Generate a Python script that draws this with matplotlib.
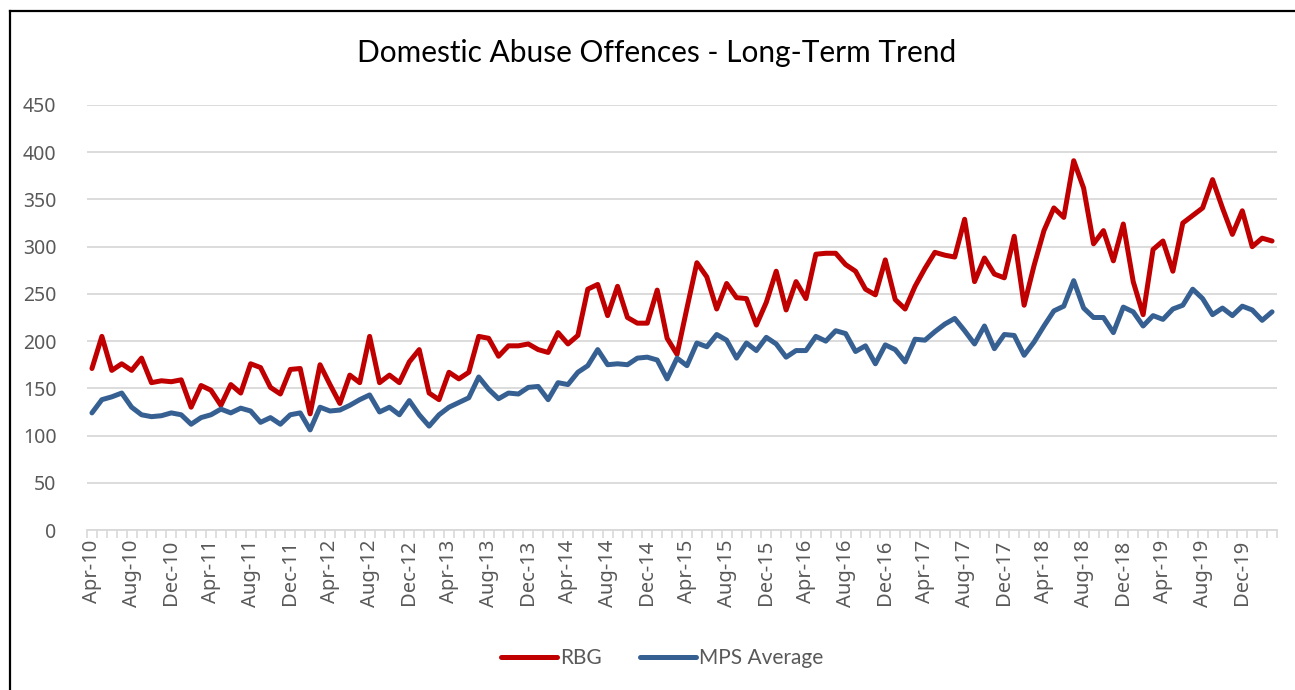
import matplotlib
matplotlib.use("Agg")
import matplotlib.pyplot as plt
from matplotlib.lines import Line2D

months = []
mnames = ["Jan", "Feb", "Mar", "Apr", "May", "Jun", "Jul", "Aug", "Sep", "Oct", "Nov", "Dec"]
for k in range(120):
    m = (3 + k) % 12
    y = 10 + (3 + k) // 12
    months.append(f"{mnames[m]}-{y:02d}")

rbg = [171, 205, 169, 176, 169, 182, 156, 158, 157, 159,
       130, 153, 148, 132, 154, 145, 176, 172, 151, 144,
       170, 171, 123, 175, 154, 134, 164, 156, 205, 156,
       164, 156, 178, 191, 145, 138, 167, 160, 167, 205,
       203, 184, 195, 195, 197, 191, 188, 209, 197, 206,
       255, 260, 227, 258, 225, 219, 219, 254, 203, 186,
       235, 283, 268, 234, 261, 246, 245, 217, 241, 274,
       233, 263, 245, 292, 293, 293, 281, 274, 255, 249,
       286, 244, 234, 258, 277, 294, 291, 289, 329, 263,
       288, 271, 267, 311, 238, 280, 317, 341, 331, 391,
       362, 303, 317, 285, 324, 263, 228, 297, 306, 274,
       325, 333, 341, 371, 341, 313, 338, 300, 309, 306]

mps = [124, 138, 141, 145, 130, 122, 120, 121, 124, 122,
       112, 119, 122, 128, 124, 129, 126, 114, 119, 112,
       122, 124, 106, 130, 126, 127, 132, 138, 143, 125,
       130, 122, 137, 122, 110, 122, 130, 135, 140, 162,
       149, 139, 145, 144, 151, 152, 138, 156, 154, 167,
       174, 191, 175, 176, 175, 182, 183, 180, 160, 182,
       174, 198, 194, 207, 201, 182, 198, 190, 204, 197,
       183, 190, 190, 205, 200, 211, 208, 189, 195, 176,
       196, 191, 178, 202, 201, 210, 218, 224, 211, 197,
       216, 192, 207, 206, 185, 199, 216, 232, 237, 264,
       235, 225, 225, 209, 236, 231, 216, 227, 223, 234,
       238, 255, 245, 228, 235, 227, 237, 233, 222, 231]

series_names = ["RBG", "MPS Average"]
title = "Domestic Abuse Offences - Long-Term Trend"
yticks = [0, 50, 100, 150, 200, 250, 300, 350, 400, 450]

RED = "#C00000"
BLUE = "#376092"
GRID = "#D9D9D9"
TXT = "#595959"

fig = plt.figure(figsize=(12.95, 6.9), dpi=100)
ax = fig.add_axes([87 / 1295, 1 - 530 / 690, (1277 - 87) / 1295, (530 - 105) / 690])

x = list(range(len(months)))
ax.plot(x, rbg, color=RED, lw=3.6, solid_joinstyle="round", solid_capstyle="round", zorder=3)
ax.plot(x, mps, color=BLUE, lw=3.6, solid_joinstyle="round", solid_capstyle="round", zorder=3)

ax.set_xlim(-0.5, len(months) - 0.5)
ax.set_ylim(0, 450)
ax.set_yticks(yticks)
ax.set_yticklabels([str(v) for v in yticks], fontsize=14, color=TXT, family="Noto Sans")
ax.yaxis.grid(True, color=GRID, lw=1.3)
ax.set_axisbelow(True)
ax.tick_params(axis="y", length=0, pad=22)

lab_pos = list(range(0, len(months), 4))
ax.set_xticks(lab_pos)
ax.set_xticklabels([months[i] for i in lab_pos], rotation=90, fontsize=14.5,
                   color=TXT, family="Noto Sans")
ax.tick_params(axis="x", length=0, pad=7)
ax.set_xticks([i - 0.5 for i in range(len(months) + 1)], minor=True)
ax.tick_params(axis="x", which="minor", length=6, color=GRID, width=1.2)

for s in ["top", "right", "left"]:
    ax.spines[s].set_visible(False)
ax.spines["bottom"].set_color(GRID)
ax.spines["bottom"].set_linewidth(1.3)

fig.text(657 / 1295, 1 - 53 / 690, title, ha="center", va="center",
         fontsize=21.5, family="Lato", color="black")

handles = [Line2D([], [], color=RED, lw=3.6, solid_capstyle="round"),
           Line2D([], [], color=BLUE, lw=3.6, solid_capstyle="round")]
leg = fig.legend(handles, series_names, loc="center", bbox_to_anchor=(662 / 1295, 1 - 658 / 690),
                 ncol=2, frameon=False, handlelength=2.7, handletextpad=0.15, columnspacing=1.8,
                 prop={"family": "Lato", "size": 15})
for t in leg.get_texts():
    t.set_color(TXT)

# chart border (left and top edges visible)
fig.add_artist(Line2D([10 / 1295, 10 / 1295], [0, 1 - 11 / 690], transform=fig.transFigure,
                      color="black", lw=1.6))
fig.add_artist(Line2D([10 / 1295, 1], [1 - 11 / 690, 1 - 11 / 690], transform=fig.transFigure,
                      color="black", lw=1.6))

fig.savefig("out.png", dpi=100, facecolor="white")
